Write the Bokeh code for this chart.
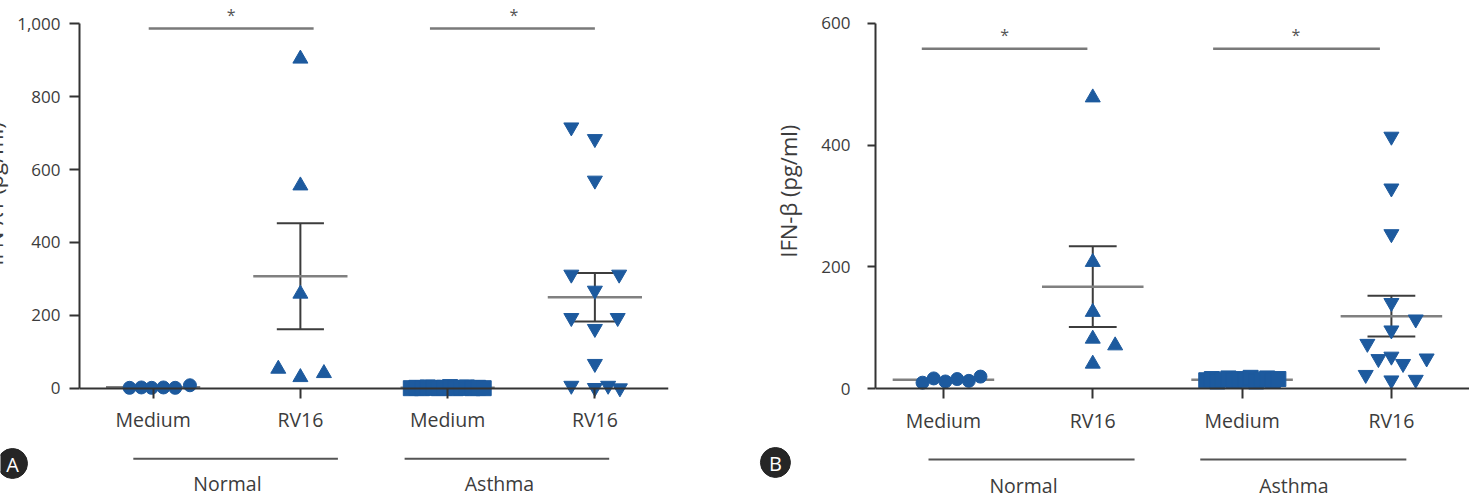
import numpy as np
from bokeh.plotting import figure
from bokeh.layouts import row, column
from bokeh.models import FixedTicker, NumeralTickFormatter, Range1d, ColumnDataSource
from bokeh.core.properties import value
from bokeh.embed import file_html
from bokeh.resources import INLINE

# ---- data -------------------------------------------------------------
conditions = ["Medium", "RV16", "Medium", "RV16"]
groups = ["Normal", "Asthma"]

# panel A: IFN-lambda1 (pg/ml)
lambda_normal_medium = [1, 2, 1, 2, 1, 8]
lambda_normal_rv16 = [904, 556, 259, 53, 30, 41]
lambda_asthma_medium = [0, 1, 0, 2, 1, 0, 1, 3, 0, 1, 2, 0, 1, 0]
lambda_asthma_rv16 = [716, 684, 570, 312, 312, 268, 193, 193, 163, 67, 7, 1, 7, 0]
lambda_ticks = [0, 200, 400, 600, 800, 1000]

# panel B: IFN-beta (pg/ml)
beta_normal_medium = [10, 17, 12, 16, 13, 20]
beta_normal_rv16 = [478, 208, 126, 82, 71, 41]
beta_asthma_medium = [14, 16, 12, 15, 17, 13, 16, 14, 18, 12, 15, 17, 13, 16]
beta_asthma_rv16 = [414, 329, 254, 141, 114, 96, 74, 49, 53, 41, 50, 23, 14, 15]
beta_ticks = [0, 200, 400, 600]

significance = ["*", "*"]

# ---- styling ----------------------------------------------------------
BLUE = "#1d5a9e"
AXIS = "#333333"
TEXT = "#3c3c3c"
FONT = "Open Sans"
MARKERS = ["circle", "triangle", "square", "inverted_triangle"]
SIZES = {"circle": 13, "triangle": 15, "square": 15, "inverted_triangle": 15}
POSITIONS = [1, 2, 3, 4]
HEIGHT = 498
STRIP_H = 62   # transparent strip laid over the bottom of each panel
NBSP = "\u00a0"
SHIFT_A = 24   # panel A is pulled left so its axis title runs off the page


def spread(n, lo, hi):
    return list(np.linspace(lo, hi, n))


def build_panel(series, jitters, ticks, y_top, width, border_left, border_right,
                x_range, y_range, tick_out, standoff, ylabel, ylabel_standoff, mean_hw,
                sig_spans, sig_y, star_x, star_y):
    p = figure(width=width, height=HEIGHT, x_range=Range1d(*x_range), y_range=Range1d(*y_range),
               output_backend="svg", toolbar_location=None,
               min_border_left=border_left, min_border_right=border_right,
               min_border_top=0, min_border_bottom=48)
    p.outline_line_color = None
    p.grid.visible = False
    p.background_fill_color = "white"
    p.border_fill_color = "white"

    # y axis
    ya = p.yaxis[0]
    ya.ticker = FixedTicker(ticks=ticks)
    ya.formatter = NumeralTickFormatter(format="0,0")
    ya.bounds = (0, y_top)
    ya.axis_line_color = AXIS
    ya.axis_line_width = 2
    ya.major_tick_line_color = AXIS
    ya.major_tick_line_width = 2
    ya.major_tick_out = tick_out
    ya.major_tick_in = 0
    ya.minor_tick_line_color = None
    ya.major_label_standoff = standoff
    ya.major_label_text_font = FONT
    ya.major_label_text_font_size = "17px"
    ya.major_label_text_color = TEXT
    ya.axis_label = ylabel
    ya.axis_label_text_font = FONT
    ya.axis_label_text_font_size = "22px"
    ya.axis_label_text_font_style = "normal"
    ya.axis_label_text_color = TEXT
    ya.axis_label_standoff = ylabel_standoff

    # x axis sits on y = 0
    xa = p.xaxis[0]
    xa.fixed_location = 0
    xa.ticker = FixedTicker(ticks=POSITIONS)
    xa.major_label_overrides = {pos: lab for pos, lab in zip(POSITIONS, conditions)}
    xa.axis_line_color = AXIS
    xa.axis_line_width = 2
    xa.major_tick_line_color = AXIS
    xa.major_tick_line_width = 2
    xa.major_tick_out = 10
    xa.major_tick_in = 0
    xa.minor_tick_line_color = None
    xa.major_label_standoff = 8
    xa.major_label_text_font = FONT
    xa.major_label_text_font_size = "19.5px"
    xa.major_label_text_color = TEXT

    # mean +/- SEM
    means = [float(np.mean(v)) for v in series]
    sems = [float(np.std(v, ddof=1) / np.sqrt(len(v))) for v in series]
    hi = [m + s for m, s in zip(means, sems)]
    lo = [m - s for m, s in zip(means, sems)]
    cap_hw = 0.16
    left = [x - cap_hw for x in POSITIONS]
    right = [x + cap_hw for x in POSITIONS]
    p.segment(x0=left, y0=hi, x1=right, y1=hi, line_color="#3c3c3c", line_width=2)
    p.segment(x0=left, y0=lo, x1=right, y1=lo, line_color="#3c3c3c", line_width=2)
    p.segment(x0=POSITIONS, y0=lo, x1=POSITIONS, y1=hi, line_color="#3c3c3c", line_width=2)
    p.segment(x0=[x - mean_hw for x in POSITIONS], y0=means,
              x1=[x + mean_hw for x in POSITIONS], y1=means,
              line_color="#808080", line_width=2.5)

    # individual values
    for pos, vals, jit, marker in zip(POSITIONS, series, jitters, MARKERS):
        src = ColumnDataSource(dict(x=[pos + j for j in jit], y=vals))
        p.scatter("x", "y", source=src, marker=marker, size=SIZES[marker],
                  fill_color=BLUE, line_color=BLUE, line_width=1)

    # significance brackets
    p.segment(x0=[a for a, b in sig_spans], y0=[sig_y] * 2,
              x1=[b for a, b in sig_spans], y1=[sig_y] * 2,
              line_color="#7a7a7a", line_width=2.5)
    p.text(x=star_x, y=[star_y] * 2, text=significance, text_font=value(FONT),
           text_font_size="16px", text_align="center", text_baseline="alphabetic",
           text_color="#555555")
    return p


def build_strip(width, x_range, group_line_x, line_y, group_label_x, label_y, badge, badge_xy):
    # y runs downward from the top of the strip, in pixels
    s = figure(width=width, height=STRIP_H, x_range=Range1d(*x_range),
               y_range=Range1d(STRIP_H, 0), x_axis_type=None, y_axis_type=None,
               output_backend="svg", toolbar_location=None,
               min_border_left=0, min_border_right=0, min_border_top=0, min_border_bottom=0)
    s.outline_line_color = None
    s.grid.visible = False
    s.background_fill_color = None
    s.border_fill_color = None
    s.segment(x0=[a for a, b in group_line_x], y0=[line_y] * 2,
              x1=[b for a, b in group_line_x], y1=[line_y] * 2,
              line_color="#555555", line_width=2)
    s.text(x=group_label_x, y=[label_y] * 2, text=groups, text_font=value(FONT),
           text_font_size="19.5px", text_align="center", text_baseline="middle",
           text_color=TEXT)
    s.scatter(x=[badge_xy[0]], y=[badge_xy[1]], marker="circle", size=30,
              fill_color="#262626", line_color="#262626")
    s.text(x=[badge_xy[0]], y=[badge_xy[1] + 1], text=[badge], text_font=value(FONT),
           text_font_size="20px", text_align="center", text_baseline="middle",
           text_color="white")
    return s


# panel A; leading no-break spaces lift the rotated titles above the frame centre
pA = build_panel(
    series=[lambda_normal_medium, lambda_normal_rv16, lambda_asthma_medium, lambda_asthma_rv16],
    jitters=[[-0.16, -0.08, -0.01, 0.07, 0.15, 0.25],
             [0, 0, 0, -0.15, 0, 0.16],
             spread(14, -0.25, 0.245),
             [-0.16, 0, 0, -0.16, 0.165, 0, -0.16, 0.155, 0, 0, -0.16, 0, 0.09, 0.17]],
    ticks=lambda_ticks, y_top=1000, width=740 + SHIFT_A, border_left=75 + SHIFT_A,
    border_right=72,
    x_range=(0.5, 4.5), y_range=(-171.0, 1063.9), tick_out=10, standoff=9,
    ylabel=NBSP * 11 + "IFN-λ1 (pg/ml)", ylabel_standoff=5,
    mean_hw=0.32, sig_spans=[(0.97, 2.09), (2.88, 4.0)], sig_y=987,
    star_x=[1.53, 3.45], star_y=1023)
pA.margin = (0, 0, 0, -SHIFT_A)

# panel B
pB = build_panel(
    series=[beta_normal_medium, beta_normal_rv16, beta_asthma_medium, beta_asthma_rv16],
    jitters=[[-0.14, -0.065, 0.013, 0.092, 0.17, 0.248],
             [0, 0, 0, 0, 0.15, 0],
             spread(14, -0.24, 0.243),
             [0, 0, 0, 0, 0.163, 0, -0.161, -0.087, 0, 0.078, 0.236, -0.172, 0, 0.163]],
    ticks=beta_ticks, y_top=600, width=729, border_left=135, border_right=0,
    x_range=(0.545, 4.523), y_range=(-101.3, 637.3), tick_out=8, standoff=17,
    ylabel=NBSP * 12 + "IFN-β (pg/ml)", ylabel_standoff=15,
    mean_hw=0.34, sig_spans=[(0.855, 1.964), (2.806, 3.923)], sig_y=558,
    star_x=[1.41, 3.36], star_y=580)

# strip rows start 62 px above the page bottom (page y = 436 + strip y)
sA = build_strip(740, (0.5 - 75 / 148.25, 0.5 + 665 / 148.25),
                 [(0.89, 2.27), (2.72, 4.1)], 22.3, [1.525, 3.36], 47, "A", (0.075, 27))
sB = build_strip(729, (0.545 - 135 / 149.33, 4.523),
                 [(0.9, 2.28), (2.72, 4.1)], 23, [1.536, 3.347], 49, "B", (-0.125, 26))

strips = row(sA, sB)
strips.margin = (-STRIP_H, 0, 0, 0)
layout = column(row(pA, pB), strips)
open("out.html", "w").write(file_html(layout, INLINE))
